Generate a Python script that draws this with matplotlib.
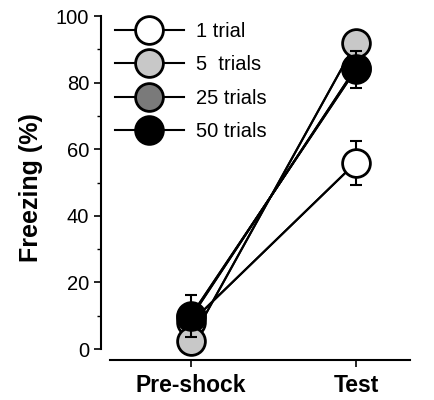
import matplotlib
matplotlib.use("Agg")
import matplotlib.pyplot as plt
from matplotlib.lines import Line2D

plt.rcParams['font.family'] = ['Liberation Sans', 'DejaVu Sans']

phases = ["Pre-shock", "Test"]
series = ["1 trial", "5  trials", "25 trials", "50 trials"]
values = {
    "1 trial": [8, 56],
    "5  trials": [2.5, 92],
    "25 trials": [9.5, 84.5],
    "50 trials": [10, 84],
}
errors = {
    "1 trial": [5, 6.6],
    "5  trials": [2, 3],
    "25 trials": [3, 3],
    "50 trials": [6.3, 5.5],
}
facecolors = ["white", "#c8c8c8", "#7a7a7a", "black"]
draw_order = [0, 2, 1, 3]
yticks = [0, 20, 40, 60, 80, 100]

fig = plt.figure(figsize=(4.35, 4.0), dpi=100)
ax = fig.add_axes([101/435, 0.10, (410-101)/435, (360-16)/400])

x = list(range(len(phases)))
handles = []
for i, (name, fc) in enumerate(zip(series, facecolors)):
    z = 2 + 2 * draw_order[i]
    ax.errorbar(x, values[name], yerr=errors[name], color="black", lw=1.5,
                capsize=4, capthick=1.5, elinewidth=1.5, zorder=z)
    ax.plot(x, values[name], color="black", lw=1.5, marker="o", ms=20,
            mfc=fc, mec="black", mew=2, zorder=z + 1)
    handles.append(Line2D([], [], color="black", lw=1.5, marker="o", ms=20,
                          mfc=fc, mec="black", mew=2))

ax.set_xlim((101-191)/165, (410-191)/165)
ax.set_ylim(-3.3, 100)
ax.set_xticks(x)
ax.set_xticklabels(phases, fontsize=16.5, fontweight="bold")
ax.set_yticks(yticks)
ax.set_yticklabels([str(v) for v in yticks], fontsize=14.5)
ax.set_yticks(range(10, 100, 20), minor=True)
ax.tick_params(axis="y", which="major", length=5, width=1.2, direction="out")
ax.tick_params(axis="y", which="minor", length=3, width=1.0, direction="out")
ax.tick_params(axis="x", length=5, width=1.2, direction="out", pad=5)
ax.set_ylabel("Freezing (%)", fontsize=18, fontweight="bold", labelpad=9)

ax.spines["top"].set_visible(False)
ax.spines["right"].set_visible(False)
ax.spines["left"].set_bounds(0, 100)
ax.spines["left"].set_linewidth(1.5)
ax.spines["bottom"].set_bounds((110-191)/165, (410-191)/165)
ax.spines["bottom"].set_linewidth(1.5)

leg = ax.legend(handles, series, loc="upper left", bbox_to_anchor=(0.02, 1.006),
                frameon=False, fontsize=14.5, handlelength=3.4, handletextpad=0.6,
                labelspacing=0.72, borderaxespad=0)

fig.savefig("out.png", dpi=100)
